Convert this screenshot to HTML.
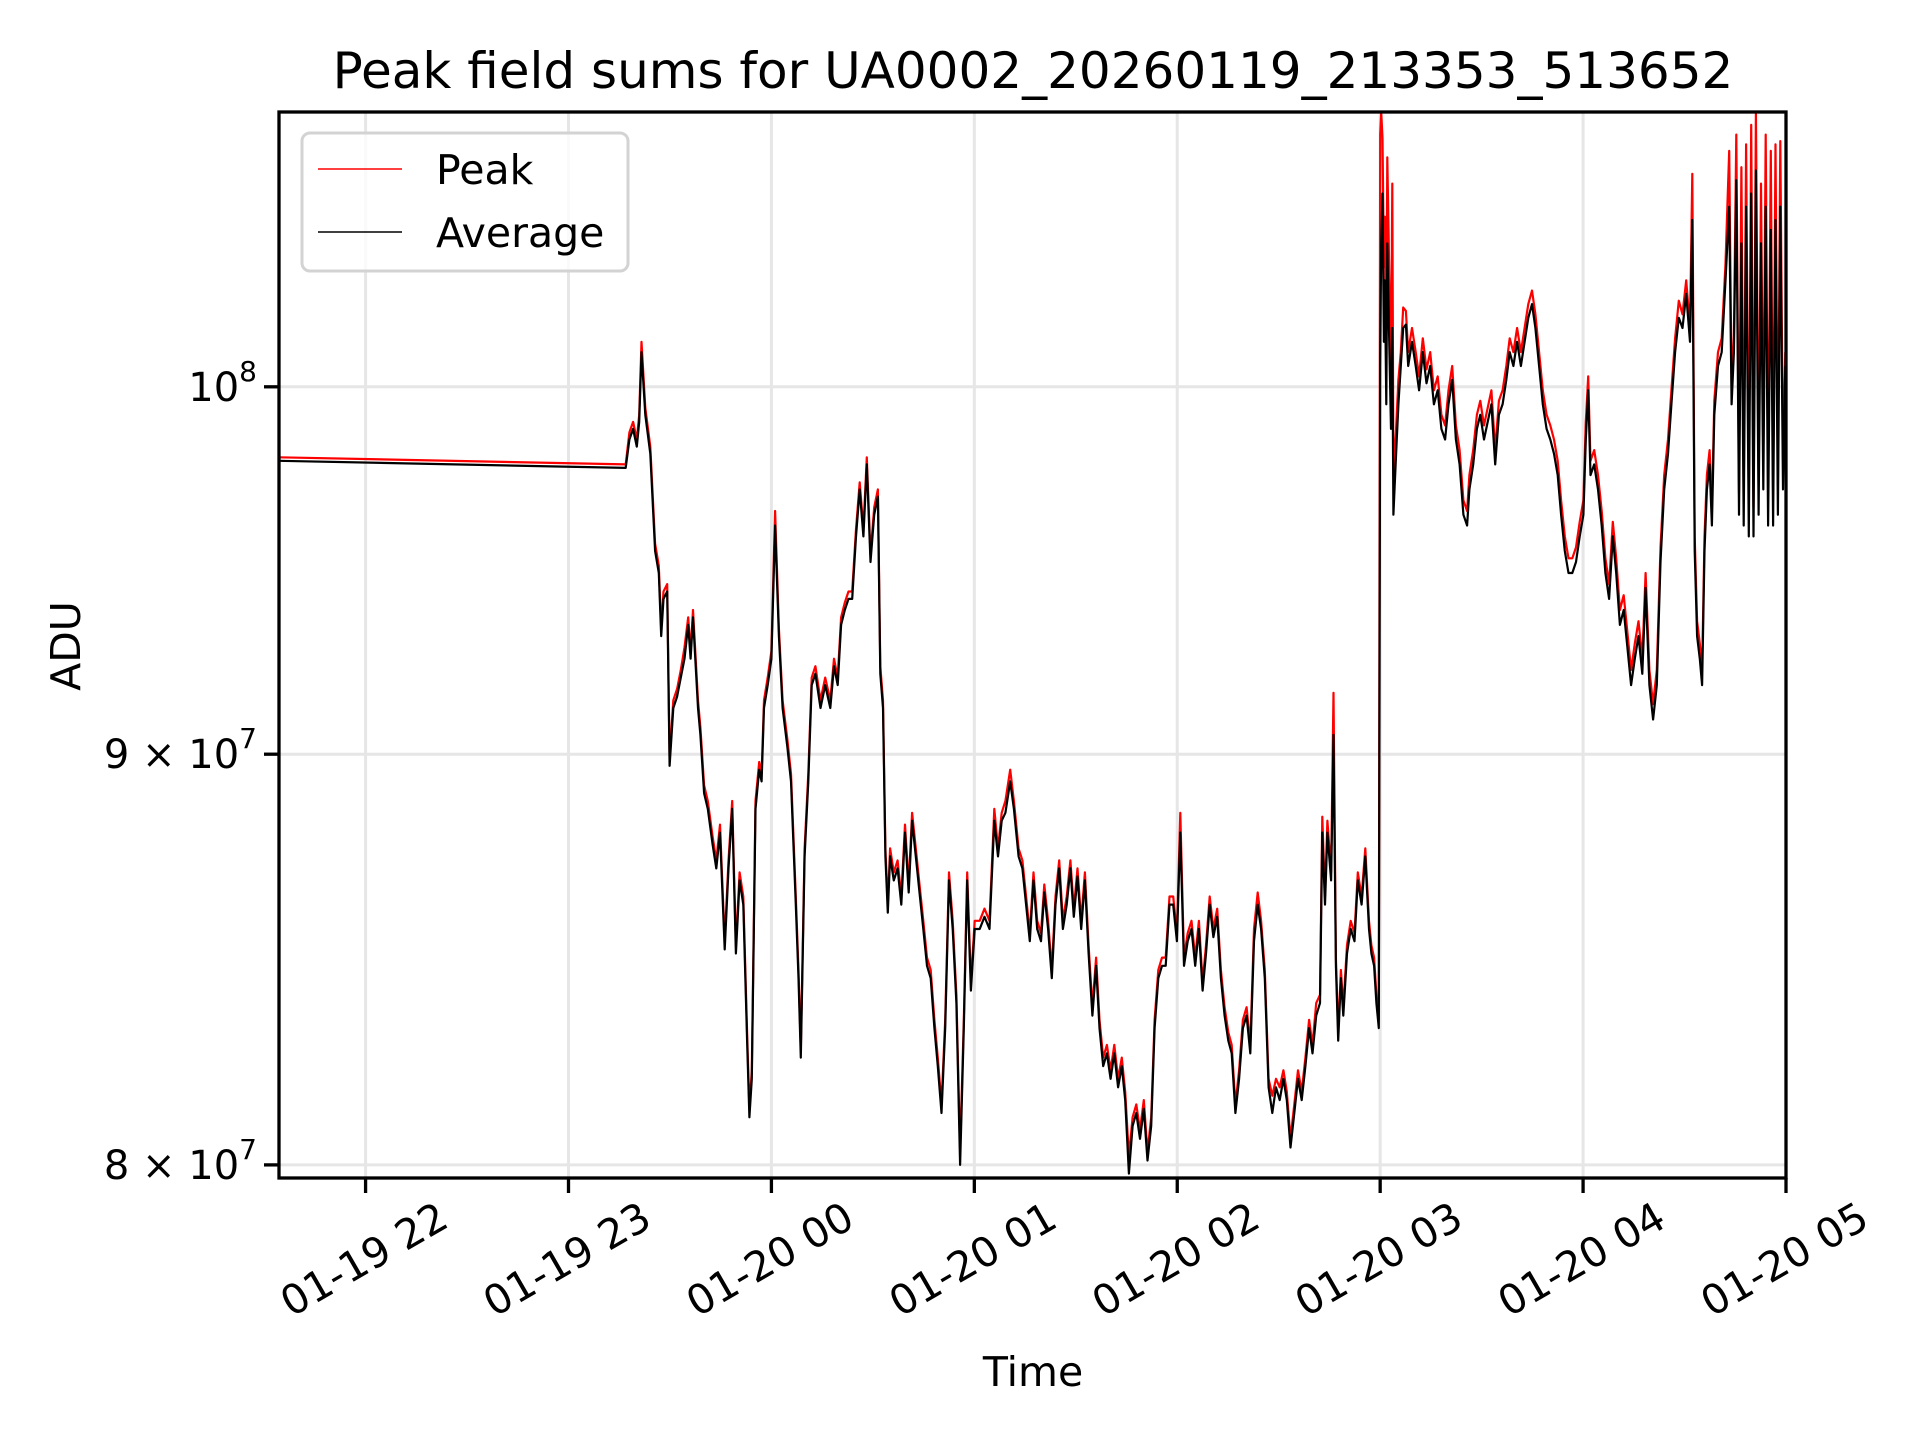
<!DOCTYPE html>
<html><head><meta charset="utf-8"><style>
html,body{margin:0;padding:0;background:#fff;}
svg{display:block;font-family:"DejaVu Sans","Liberation Sans",sans-serif;}
</style></head><body>
<svg id="chart" width="1920" height="1440" viewBox="0 0 1920 1440" xmlns="http://www.w3.org/2000/svg">
<rect x="0" y="0" width="1920" height="1440" fill="#fff"/>
<text x="1033" y="88" font-size="50" text-anchor="middle">Peak field sums for UA0002_20260119_213353_513652</text>
<g id="grid"></g>
<g id="series"></g>
<g id="axes"></g>
<text x="0" y="0" font-size="41" text-anchor="middle" transform="translate(80,646) rotate(-90)">ADU</text>
<text x="1033" y="1386" font-size="41" text-anchor="middle">Time</text>
<g>
<rect x="302" y="133" width="326" height="138" rx="8" fill="#fff" fill-opacity="0.8" stroke="#d3d3d3" stroke-width="3"/>
<line x1="318" y1="169" x2="402" y2="169" stroke="#ff0000" stroke-width="1.6"/>
<text x="436" y="184" font-size="41">Peak</text>
<line x1="318" y1="232" x2="402" y2="232" stroke="#000" stroke-width="1.6"/>
<text x="436" y="247" font-size="41">Average</text>
</g>
</svg>
<script>
// minutes relative to 01-20 00:00
const times = [-145.6,-43.1,-42.0,-40.9,-39.8,-39.1,-38.4,-37.3,-35.8,-34.4,-33.3,-32.6,-31.9,-30.8,-30.1,-29.0,-27.9,-26.8,-25.7,-24.6,-23.9,-23.2,-21.7,-21.0,-19.9,-18.8,-17.4,-16.3,-15.2,-13.8,-12.7,-11.6,-10.5,-9.4,-8.3,-7.2,-6.5,-5.8,-4.7,-3.6,-2.9,-2.2,-1.1,0,
1.1,2.2,3.3,4.7,5.8,7.2,8.0,8.7,9.8,10.9,11.9,13.0,14.5,15.9,17.4,18.5,19.6,20.6,21.7,22.8,23.9,25.0,26.1,27.2,28.2,29.3,30.4,31.5,32.2,33.0,33.7,34.4,35.1,36.2,37.3,38.4,39.5,40.6,41.6,42.7,43.8,44.9,46.0,47.1,48.2,49.2,50.3,51.4,52.5,53.6,54.7,55.8,56.9,57.9,59.0,60.1,61.6,63.0,64.5,65.9,67.0,68.1,69.2,70.6,71.7,73.1,74.2,75.3,76.4,77.5,78.6,79.7,80.7,81.8,82.9,84.0,85.1,86.2,87.3,88.4,89.4,90.5,91.6,92.7,93.8,94.9,96.0,97.0,98.1,99.2,100.3,101.4,102.5,103.6,104.6,105.7,106.8,107.9,109.0,110.1,111.2,112.3,113.3,114.4,115.5,116.6,117.7,118.8,119.9,120.9,122.0,123.1,124.2,125.3,126.4,127.5,128.5,129.6,130.7,131.8,132.9,134.0,135.1,136.1,137.2,138.3,139.4,140.5,141.6,142.7,143.8,144.8,145.9,147.0,148.1,149.2,150.3,151.4,152.4,153.5,154.6,155.7,156.8,157.9,159.0,160.0,161.1,162.2,162.9,163.7,164.4,165.5,166.2,166.9,167.6,168.4,169.1,170.2,171.3,172.4,173.4,174.5,175.6,176.7,177.4,178.2,178.9,179.6,
180.0,180.3,180.7,181.1,181.4,181.8,182.1,182.9,183.2,183.6,183.9,184.7,185.4,186.1,186.8,187.6,188.3,189.4,190.5,191.5,192.6,193.7,194.8,195.9,197.0,198.1,199.2,200.2,201.3,202.4,203.5,204.6,205.7,206.4,207.5,208.6,209.6,210.7,211.8,212.9,214.0,215.1,216.2,217.3,218.3,219.4,220.5,221.6,222.7,223.8,224.9,225.9,227.0,228.1,229.2,230.3,231.4,232.5,233.5,234.6,235.7,236.8,237.9,239.0,240.1,240.8,241.5,242.2,243.3,244.4,245.5,246.6,247.7,248.8,249.8,250.9,252.0,253.1,254.2,255.3,256.4,257.5,258.5,259.6,260.7,261.8,262.9,264.0,265.1,266.1,267.2,268.3,269.4,270.5,271.6,272.3,273.0,273.7,274.5,275.2,275.9,276.6,277.4,278.1,278.8,279.9,281.0,282.1,283.2,283.9,284.6,285.3,286.1,286.8,287.5,288.2,289.0,289.7,290.4,291.1,291.9,292.6,293.3,294.0,294.7,295.5,296.2,296.9,297.6,298.3,299.1,299.8];
// Average, millions of ADU
const avgVals = [97.9,97.7,98.5,98.8,98.3,99.0,101.0,99.2,98.1,95.4,94.8,93.1,94.1,94.3,89.7,91.2,91.5,92.0,92.5,93.4,92.5,93.6,91.2,90.5,89.0,88.6,87.7,87.1,88.0,85.1,87.1,88.6,85.0,86.8,86.2,82.9,81.1,82.0,88.6,89.6,89.3,91.2,91.8,92.5,
96.1,93.1,91.2,90.2,89.3,86.2,84.4,82.5,87.4,89.3,91.8,92.1,91.2,91.8,91.2,92.3,91.8,93.4,93.8,94.1,94.1,95.8,97.1,95.8,97.8,95.1,96.4,96.9,92.1,91.2,87.4,86.0,87.4,86.8,87.1,86.2,88.0,86.5,88.3,87.4,86.5,85.6,84.7,84.4,83.2,82.3,81.2,83.2,86.8,85.6,83.8,80.0,83.2,86.8,84.1,85.6,85.6,85.9,85.6,88.3,87.4,88.3,88.5,89.3,88.6,87.4,87.1,86.2,85.3,86.8,85.6,85.3,86.5,85.6,84.4,86.2,87.1,85.6,86.2,87.1,85.9,86.9,85.6,86.8,85.0,83.5,84.7,83.2,82.3,82.6,82.0,82.6,81.8,82.3,81.5,79.8,80.9,81.2,80.6,81.3,80.1,80.9,83.2,84.4,84.7,84.7,86.2,86.2,85.3,88.0,84.7,85.3,85.6,84.7,85.6,84.1,85.0,86.2,85.4,85.9,84.4,83.5,82.9,82.6,81.2,82.0,83.2,83.5,82.6,85.3,86.2,85.6,84.4,81.8,81.2,81.8,81.5,82.0,81.5,80.4,81.2,82.0,81.5,82.3,83.2,82.6,83.5,83.8,88.0,86.2,88.0,86.8,90.5,84.7,82.9,84.4,83.5,85.0,85.6,85.3,86.8,86.2,87.4,85.6,85.0,84.7,83.8,83.2,
100.6,104.2,105.7,101.3,103.1,99.5,104.2,100.2,98.8,101.7,96.4,98.1,99.5,100.6,101.7,101.8,100.6,101.3,100.6,99.9,101.0,100.1,100.6,99.5,99.9,98.8,98.5,99.5,100.2,98.5,97.8,96.4,96.1,97.1,97.8,98.8,99.2,98.5,99.0,99.5,97.8,99.2,99.5,100.2,101.0,100.6,101.3,100.6,101.3,102.0,102.4,101.7,100.6,99.5,98.8,98.5,98.1,97.5,96.4,95.4,94.8,94.8,95.1,95.8,96.4,98.5,99.9,97.5,97.8,97.1,96.1,94.8,94.1,95.8,94.8,93.4,93.8,92.8,91.8,92.5,93.1,92.1,94.4,91.8,90.9,91.8,95.1,97.1,98.1,99.5,101.0,102.0,101.7,102.7,101.3,104.9,95.4,93.1,92.5,91.8,95.4,97.1,97.8,96.1,99.2,100.6,101.0,103.1,105.3,99.5,101.0,106.1,96.4,104.2,96.1,105.3,95.8,105.7,95.8,106.4,96.4,104.2,97.1,105.3,96.1,104.6,96.1,104.9,96.4,105.3,97.1,100.6];
// Peak, millions of ADU
const peakVals = [98.0,97.8,98.7,99.0,98.5,99.2,101.3,99.4,98.3,95.6,95.0,93.3,94.3,94.5,89.9,91.4,91.7,92.2,92.8,93.6,92.7,93.8,91.4,90.7,89.2,88.8,87.9,87.3,88.2,85.3,87.3,88.8,85.2,87.0,86.4,83.1,81.3,82.2,88.8,89.8,89.5,91.4,92.0,92.7,
96.5,93.3,91.4,90.4,89.5,86.4,84.6,82.7,87.6,89.5,92.0,92.3,91.4,92.0,91.4,92.5,92.0,93.6,94.0,94.3,94.3,96.0,97.3,96.0,98.0,95.3,96.6,97.1,92.3,91.4,87.6,86.2,87.6,87.0,87.3,86.4,88.2,86.7,88.5,87.6,86.7,85.8,84.9,84.6,83.4,82.5,81.4,83.4,87.0,85.8,84.0,80.3,83.4,87.0,84.3,85.8,85.8,86.1,85.8,88.6,87.6,88.5,88.8,89.6,88.8,87.6,87.3,86.4,85.5,87.0,85.8,85.5,86.7,85.8,84.6,86.4,87.3,85.8,86.4,87.3,86.1,87.1,85.8,87.0,85.2,83.7,84.9,83.4,82.5,82.8,82.2,82.8,82.0,82.5,81.7,80.2,81.1,81.4,80.8,81.5,80.3,81.1,83.4,84.6,84.9,84.9,86.4,86.4,85.5,88.5,84.9,85.5,85.8,84.9,85.8,84.3,85.2,86.4,85.6,86.1,84.6,83.7,83.1,82.8,81.4,82.2,83.4,83.7,82.8,85.6,86.5,85.8,84.6,82.0,81.6,82.0,81.8,82.2,81.7,80.6,81.4,82.2,81.7,82.5,83.4,82.8,83.8,84.0,88.4,86.4,88.3,87.0,91.6,84.9,83.1,84.6,83.7,85.2,85.8,85.5,87.0,86.4,87.6,85.8,85.2,84.9,84.0,83.4,
107.5,108.2,107.4,103.5,105.0,101.0,106.8,102.0,100.0,106.0,97.5,98.8,100.2,101.0,102.3,102.2,101.0,101.7,101.0,100.3,101.4,100.5,101.0,99.9,100.3,99.2,98.9,99.9,100.6,98.9,98.2,96.8,96.5,97.5,98.2,99.2,99.6,98.9,99.4,99.9,98.2,99.6,99.9,100.6,101.4,101.0,101.7,101.0,101.7,102.4,102.8,102.1,101.0,99.9,99.2,98.9,98.5,97.9,96.8,95.8,95.2,95.2,95.5,96.2,96.8,99.0,100.3,97.9,98.2,97.5,96.5,95.2,94.5,96.2,95.2,93.8,94.2,93.2,92.2,92.9,93.5,92.5,94.8,92.2,91.3,92.2,95.5,97.5,98.5,99.9,101.4,102.5,102.1,103.1,101.7,106.3,95.8,93.5,92.9,92.2,95.8,97.5,98.2,96.5,99.6,101.0,101.4,103.6,107.0,100.0,101.5,107.5,97.0,106.5,96.8,107.2,96.6,107.8,96.6,108.2,97.2,106.0,97.9,107.5,96.9,107.0,96.9,107.2,97.2,107.3,97.9,101.0];
const xTickMins = [-120,-60,0,60,120,180,240,300];
const xTickLabels = ["01-19 22","01-19 23","01-20 00","01-20 01","01-20 02","01-20 03","01-20 04","01-20 05"];
const yTickVals = [1e8,9e7,8e7];
const yTickBase = ["10","9 \u00d7 10","8 \u00d7 10"];
const yTickExp = ["8","7","7"];

const L=279,R=1786,T=112,B=1178;
const xMin=-145.6,xMax=300, yMin=7.97e7, yMax=1.082e8;
const NS="http://www.w3.org/2000/svg";
function xs(m){return L+(m-xMin)/(xMax-xMin)*(R-L);}
function ys(v){const lo=Math.log10(yMin),hi=Math.log10(yMax);return B-(Math.log10(v)-lo)/(hi-lo)*(B-T);}
function mk(tag,attrs,parent){const e=document.createElementNS(NS,tag);for(const k in attrs)e.setAttribute(k,attrs[k]);parent.appendChild(e);return e;}
const grid=document.getElementById('grid'),series=document.getElementById('series'),axes=document.getElementById('axes');
xTickMins.forEach((m,i)=>{
  const x=xs(m);
  const g=mk('line',{x1:x,y1:T,x2:x,y2:B,stroke:'#e6e6e6','stroke-width':3},grid);
  
  
  const t=mk('line',{x1:x,y1:B,x2:x,y2:B+15,stroke:'#000','stroke-width':3.3},axes);
  
  
  const lb=mk('text',{x:0,y:0,'font-size':41,'text-anchor':'middle','dominant-baseline':'middle',transform:'translate('+x+','+(B+84)+') rotate(-30)'},axes);
  lb.textContent=xTickLabels[i];
  
  
});
yTickVals.forEach((v,i)=>{
  const y=ys(v);
  const g=mk('line',{x1:L,y1:y,x2:R,y2:y,stroke:'#e6e6e6','stroke-width':3},grid);
  
  
  const t=mk('line',{x1:L-15,y1:y,x2:L,y2:y,stroke:'#000','stroke-width':3.3},axes);
  
  
  const lb=mk('text',{x:L-22,y:y+14,'font-size':40,'text-anchor':'end'},axes);
  const b=mk('tspan',{},lb);b.textContent=yTickBase[i];
  const e=mk('tspan',{dy:-20,'font-size':28},lb);e.textContent=yTickExp[i];
  
  
});
function path(vals,color,name){
  let d='';
  times.forEach((m,i)=>{d+=(i?'L':'M')+xs(m).toFixed(1)+','+ys(vals[i]*1e6).toFixed(1);});
  const p=mk('path',{d:d,fill:'none',stroke:color,'stroke-width':2.2,'stroke-linejoin':'round'},series);
  
  
}
const cp=mk('clipPath',{id:'clip'},series);mk('rect',{x:L,y:T,width:R-L,height:B-T},cp);
series.setAttribute('clip-path','url(#clip)');
path(peakVals,'#ff0000','peak-line');
path(avgVals,'#000000','average-line');
const sp=mk('rect',{x:L,y:T,width:R-L,height:B-T,fill:'none',stroke:'#000','stroke-width':3.3},axes);


</script>
</body></html>
